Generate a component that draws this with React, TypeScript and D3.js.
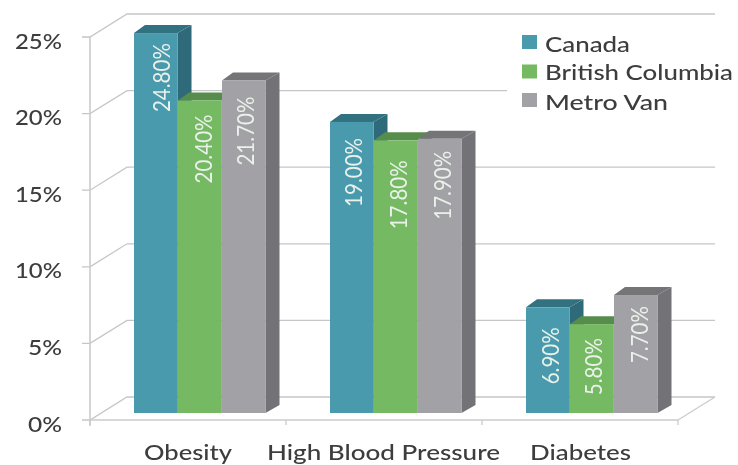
import React from "react";
import * as d3 from "d3";

const categories = ["Obesity", "High Blood Pressure", "Diabetes"];
const seriesNames = ["Canada", "British Columbia", "Metro Van"];
const canada = [24.8, 19.0, 6.9];
const britishColumbia = [20.4, 17.8, 5.8];
const metroVan = [21.7, 17.9, 7.7];
const yTicks = [0, 5, 10, 15, 20, 25];
const series = [canada, britishColumbia, metroVan];

const front = ["#4a9aad", "#76b963", "#a2a2a6"];
const top = ["#33717f", "#578d4b", "#747477"];
const side = ["#2f6b7a", "#4f8445", "#737377"];
// per-label placement, indexed [series][category]
const labelDown = [[10, 16, 20], [14, 20, 14], [16, 12, 11]];
const labelRight = [[5, 1.5, 2], [3, 2, 1], [1, 2, 3]];
const categoryX = [144, 267, 530];
const categoryLen = [88, 233, 101];
const legendLen = [85, 188, 123];
const legendBaseline = [52, 80, 110];
const legendSwatch = [35, 64.5, 93];

const W = 738, H = 465;
const dx = 37, dy = -23; // floor depth
const bdx = 14, bdy = -8; // bar depth
const y = d3.scaleLinear().domain([0, 25]).range([420, 37]);
const x0 = d3.scaleBand().domain(categories).range([90, 678]);
const barW = 43.5;
const barOffset = 44;
const baseShift = -7;

export default function App() {
  const axisColor = "#cbcbcb";
  const gridColor = "#c6c6c6";
  const sans = "Lato, 'Open Sans', sans-serif";
  const ink = "#3c3c3c";
  const bars = categories.flatMap((c, i) =>
    seriesNames.map((_, s) => ({ c, i, s, v: series[s][i] }))
  );
  return (
    <svg
      width={W}
      height={H}
      viewBox={`0 0 ${W} ${H}`}
      style={{ position: "absolute", left: 0, top: 0, background: "#fff" }}
    >
      <defs>
        <filter id="soft" x="-5%" y="-5%" width="110%" height="110%">
          <feGaussianBlur stdDeviation="0.65" />
        </filter>
      </defs>
      <g filter="url(#soft)">
        {yTicks.map((t) => (
          <g key={t}>
            <path
              d={`M82,${y(t)}H90L${90 + dx},${y(t) + dy}H${678 + dx}`}
              fill="none"
              stroke={gridColor}
              strokeWidth={1.3}
            />
            <text
              x={15 + (t < 10 ? 13 : 0)}
              y={y(t) + 11.5}
              textLength={t < 10 ? 34 : 47}
              lengthAdjust="spacingAndGlyphs"
              fontFamily={sans}
              fontSize={22}
              fontWeight={500}
              fill={ink}
            >
              {t}%
            </text>
          </g>
        ))}
        <line x1={90} x2={90} y1={y(25)} y2={y(0) + 6} stroke={axisColor} strokeWidth={1.6} />
        <line x1={90} x2={678} y1={y(0)} y2={y(0)} stroke={axisColor} strokeWidth={1.6} />
        <line x1={678} x2={678 + dx} y1={y(0)} y2={y(0) + dy} stroke={axisColor} strokeWidth={1.3} />
        {d3.range(categories.length + 1).map((k) => {
          const tx = 90 + k * x0.step();
          return <line key={k} x1={tx} x2={tx} y1={y(0)} y2={y(0) + 5} stroke={axisColor} strokeWidth={1.3} />;
        })}
        {bars.map(({ c, i, s, v }) => {
          const xl = (x0(c) as number) + 44 + s * barOffset;
          const xr = xl + barW;
          const yt = y(v) + baseShift;
          const yb = y(0) + baseShift;
          const tx = (xl + xr) / 2 + labelRight[s][i];
          const ty = yt + labelDown[s][i];
          const label = `${v.toFixed(2)}%`;
          return (
            <g key={c + s}>
              <path d={`M${xr},${yt}l${bdx},${bdy}V${yb + bdy}l${-bdx},${-bdy}Z`} fill={side[s]} />
              <path d={`M${xl},${yt}l${bdx - 3},${bdy}H${xr + bdx}l${-bdx},${-bdy}Z`} fill={top[s]} />
              <rect x={xl} y={yt} width={barW} height={yb - yt} fill={front[s]} />
              <text
                transform={`translate(${tx},${ty}) rotate(-90)`}
                textAnchor="end"
                dominantBaseline="central"
                textLength={label.length > 5 ? 69 : 57}
                lengthAdjust="spacingAndGlyphs"
                fontFamily={sans}
                fontSize={23}
                fill="#e9f1ea"
              >
                {label}
              </text>
            </g>
          );
        })}
        {categories.map((c, i) => (
          <text
            key={c}
            x={categoryX[i]}
            y={460}
            textLength={categoryLen[i]}
            lengthAdjust="spacingAndGlyphs"
            fontFamily={sans}
            fontSize={20.5}
            fontWeight={500}
            fill={ink}
          >
            {c}
          </text>
        ))}
        <rect x={507} y={28} width={231} height={90} fill="#fff" />
        {seriesNames.map((n, i) => (
          <g key={n}>
            <rect x={522} y={legendSwatch[i]} width={15} height={14} fill={front[i]} />
            <text
              x={545}
              y={legendBaseline[i]}
              textLength={legendLen[i]}
              lengthAdjust="spacingAndGlyphs"
              fontFamily={sans}
              fontSize={20.5}
              fontWeight={500}
              fill={ink}
            >
              {n}
            </text>
          </g>
        ))}
      </g>
    </svg>
  );
}
